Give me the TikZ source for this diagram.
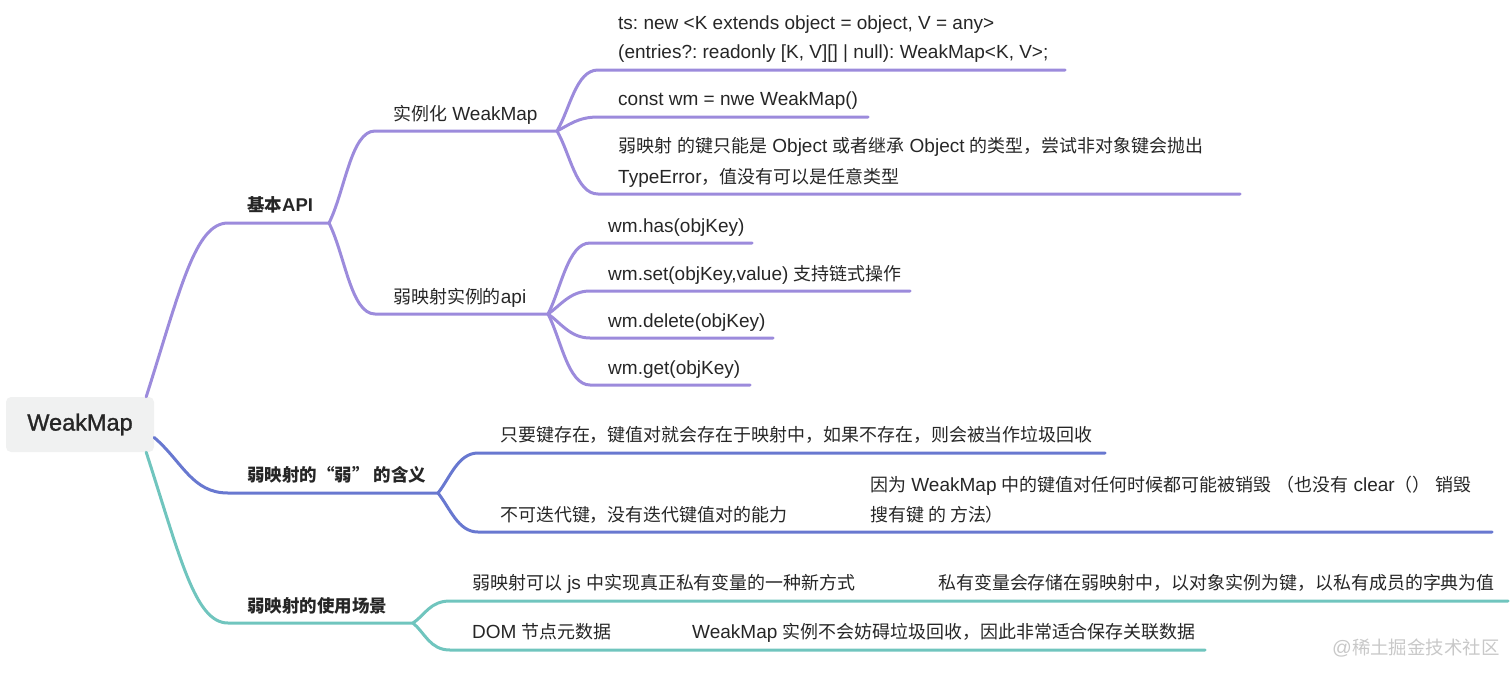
\documentclass[tikz,border=0pt]{standalone}
\usepackage{fontspec}
\setmainfont{Liberation Sans}
\newfontfamily\cjk{Noto Sans CJK SC}[Scale=0.945]
\newfontfamily\rootfont{Liberation Sans}[FakeBold=1.2]
\usetikzlibrary{calc}
\definecolor{pl}{HTML}{9C8BDC}
\definecolor{bl}{HTML}{6878D0}
\definecolor{tl}{HTML}{70C5BE}
\definecolor{textc}{HTML}{262626}
\definecolor{rootfill}{HTML}{F0F1F1}
\definecolor{wmk}{HTML}{C8C8C8}
\tikzset{
  txt/.style={anchor=base west, inner sep=0pt, text=textc, font=\fontsize{19}{30}\selectfont},
  lvlone/.style={txt, font=\fontsize{18.5}{30}\selectfont\bfseries},
  rootbox/.style={fill=rootfill, rounded corners=5pt, minimum width=148pt, minimum height=55pt,
    inner sep=0pt, text=textc, font=\rootfont\fontsize{23.5}{28}\selectfont},
  edge/.style={line width=3pt, line cap=round, line join=round},
  pedge/.style={edge, draw=pl},
  bedge/.style={edge, draw=bl},
  tedge/.style={edge, draw=tl},
  wmark/.style={anchor=base west, inner sep=0pt, text=wmk, font=\fontsize{19.5}{24}\selectfont}
}
\frenchspacing
\begin{document}
\frenchspacing
\begin{tikzpicture}[x=1pt,y=-1pt]
\useasboundingbox (0,0) rectangle (1512,678);

% underline end points
\coordinate (basic-s) at (228,223);  \coordinate (basic-e) at (329,223);
\coordinate (inst-s) at (375,131);   \coordinate (inst-e) at (557,131);
\coordinate (api-s) at (375,314);    \coordinate (api-e) at (548,314);
\coordinate (ts-s) at (598,70);      \coordinate (ts-e) at (1065,70);
\coordinate (const-s) at (598,117);  \coordinate (const-e) at (868,117);
\coordinate (wk-s) at (598,194);     \coordinate (wk-e) at (1240,194);
\coordinate (has-s) at (590,243);    \coordinate (has-e) at (752,243);
\coordinate (set-s) at (590,291);    \coordinate (set-e) at (910,291);
\coordinate (del-s) at (590,338);    \coordinate (del-e) at (773,338);
\coordinate (get-s) at (590,385);    \coordinate (get-e) at (750,385);
\coordinate (mean-s) at (228,493);   \coordinate (mean-e) at (438,493);
\coordinate (m1-s) at (478,453);     \coordinate (m1-e) at (1105,453);
\coordinate (m2-s) at (478,532);     \coordinate (m2-e) at (852,532);
\coordinate (m2x-e) at (1492,532);
\coordinate (use-s) at (228,623);    \coordinate (use-e) at (413,623);
\coordinate (u1-s) at (450,601);     \coordinate (u1-e) at (920,601);
\coordinate (u1x-e) at (1508,601);
\coordinate (u2-s) at (450,650);     \coordinate (u2-e) at (675,650);
\coordinate (u2x-e) at (1205,650);

% root
\node[rootbox] (root) at (80,424.5) {WeakMap};
\coordinate (r1) at ($(root.north east)+(-8,0)$);
\coordinate (r2) at ($(root.east)+(0,13)$);
\coordinate (r3) at ($(root.south east)+(-8,0)$);

% level 1 connectors
\draw[pedge] (r1) .. controls +(34,-107) and +(-33,0) .. (basic-s) -- (basic-e);
\draw[bedge] (r2) .. controls +(28,24) and +(-36,0) .. (mean-s) -- (mean-e);
\draw[tedge] (r3) .. controls +(34,105) and +(-33,0) .. (use-s) -- (use-e);

% basic API branch
\draw[pedge] (basic-e) .. controls +(16,-32) and +(-24,0) .. (inst-s) -- (inst-e);
\draw[pedge] (basic-e) .. controls +(16,32) and +(-24,0) .. (api-s) -- (api-e);
\draw[pedge] (inst-e) .. controls +(13,-22) and +(-22,0) .. (ts-s) -- (ts-e);
\draw[pedge] (inst-e) .. controls +(12,-6) and +(-20,0) .. (const-s) -- (const-e);
\draw[pedge] (inst-e) .. controls +(13,22) and +(-22,0) .. (wk-s) -- (wk-e);
\draw[pedge] (api-e) .. controls +(13,-25) and +(-22,0) .. (has-s) -- (has-e);
\draw[pedge] (api-e) .. controls +(12,-8) and +(-20,0) .. (set-s) -- (set-e);
\draw[pedge] (api-e) .. controls +(12,8) and +(-20,0) .. (del-s) -- (del-e);
\draw[pedge] (api-e) .. controls +(13,25) and +(-22,0) .. (get-s) -- (get-e);

% meaning branch
\draw[bedge] (mean-e) .. controls +(12,-15) and +(-20,0) .. (m1-s) -- (m1-e);
\draw[bedge] (mean-e) .. controls +(12,15) and +(-20,0) .. (m2-s) -- (m2-e) -- (m2x-e);

% usage branch
\draw[tedge] (use-e) .. controls +(12,-8) and +(-20,0) .. (u1-s) -- (u1-e) -- (u1x-e);
\draw[tedge] (use-e) .. controls +(12,10) and +(-20,0) .. (u2-s) -- (u2-e) -- (u2x-e);

% texts
\node[lvlone] (basic) at (247,211.5) {{\cjk 基本}API};
\node[lvlone] (mean) at (247,481) {{\cjk 弱映射的“弱” 的含义}};
\node[lvlone] (use) at (247,612) {{\cjk 弱映射的使用场景}};

\node[txt] (inst) at (393,120) {{\cjk 实例化} WeakMap};
\node[txt] (api) at (393,303) {{\cjk 弱映射实例的}api};

\node[txt] (ts-a) at (618,29) {ts: new <K extends object = object, V = any>};
\node[txt] (ts-b) at (618,58) {(entries?: readonly [K, V][] | null): WeakMap<K, V>;};
\node[txt] (const) at (618,105) {const wm = nwe WeakMap()};
\node[txt] (wk-a) at (618,152) {{\cjk 弱映射} {\cjk 的键只能是} Object {\cjk 或者继承} Object {\cjk 的类型，尝试非对象键会抛出}};
\node[txt] (wk-b) at (618,183) {TypeError{\cjk ，值没有可以是任意类型}};

\node[txt] (has) at (608,232) {wm.has(objKey)};
\node[txt] (set) at (608,280) {wm.set(objKey,value) {\cjk 支持链式操作}};
\node[txt] (del) at (608,327) {wm.delete(objKey)};
\node[txt] (get) at (608,374) {wm.get(objKey)};

\node[txt] (m1) at (500,441) {{\cjk 只要键存在，键值对就会存在于映射中，如果不存在，则会被当作垃圾回收}};
\node[txt] (m2) at (500,521) {{\cjk 不可迭代键，没有迭代键值对的能力}};
\node[txt] (m2x-a) at (870,491) {{\cjk 因为} WeakMap {\cjk 中的键值对任何时候都可能被销毁} {\cjk （也没有} clear{\cjk （）} {\cjk 销毁}};
\node[txt] (m2x-b) at (870,521) {{\cjk 搜有键 的 方法）}};

\node[txt] (u1) at (472,589) {{\cjk 弱映射可以} js {\cjk 中实现真正私有变量的一种新方式}};
\node[txt] (u1x) at (938,589) {{\cjk 私有变量会存储在弱映射中，以对象实例为键，以私有成员的字典为值}};
\node[txt] (u2) at (472,638) {DOM {\cjk 节点元数据}};
\node[txt] (u2x) at (692,638) {WeakMap {\cjk 实例不会妨碍垃圾回收，因此非常适合保存关联数据}};

\node[wmark] (wm) at (1332,654) {@{\cjk 稀土掘金技术社区}};
\end{tikzpicture}
\end{document}
